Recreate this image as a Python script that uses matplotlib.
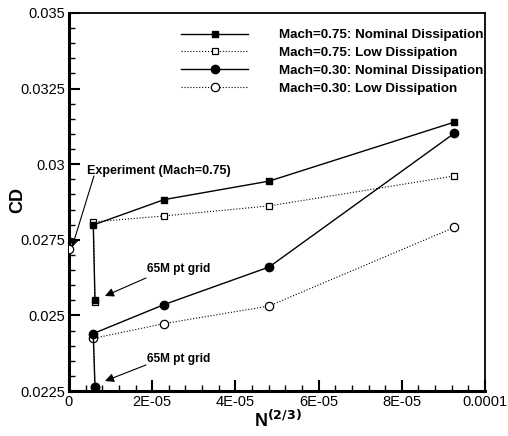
import matplotlib
matplotlib.use('Agg')
import matplotlib.pyplot as plt
from matplotlib.ticker import MultipleLocator, FuncFormatter

plt.rcParams['font.family'] = ['Liberation Sans', 'DejaVu Sans']

# ===== DATA =====
# grid parameter N^(2/3); first point is the 65M pt grid
n_grid = [6.25e-6, 5.84e-6, 2.29e-5, 4.81e-5, 9.26e-5]

cd_m075_nominal = [0.02550, 0.02799, 0.02883, 0.02944, 0.03139]
cd_m075_low = [0.02544, 0.02809, 0.02829, 0.02862, 0.02961]
cd_m030_nominal = [0.02264, 0.02440, 0.02536, 0.02660, 0.03102]
cd_m030_low = [0.02264, 0.02424, 0.02473, 0.02531, 0.02791]

exp_x = [0.0]
exp_cd = [0.02720]

labels = ['Mach=0.75: Nominal Dissipation', 'Mach=0.75: Low Dissipation',
          'Mach=0.30: Nominal Dissipation', 'Mach=0.30: Low Dissipation']

# ===== PLOT =====
fig = plt.figure(figsize=(5.08, 4.36), dpi=100)
ax = fig.add_axes([0.1358, 0.1032, 0.8189, 0.867])

ax.plot(n_grid, cd_m075_nominal, color='black', lw=1.0, ls='-',
        marker='s', ms=5, mfc='black', mec='black', label=labels[0], zorder=4)
ax.plot(n_grid, cd_m075_low, color='black', lw=0.8, ls=':',
        marker='s', ms=4.5, mfc='white', mec='black', mew=0.9, label=labels[1], zorder=3)
ax.plot(n_grid, cd_m030_nominal, color='black', lw=1.0, ls='-',
        marker='o', ms=6, mfc='black', mec='black', label=labels[2], zorder=4)
ax.plot(n_grid, cd_m030_low, color='black', lw=0.8, ls=':',
        marker='o', ms=6, mfc='white', mec='black', mew=0.9, label=labels[3], zorder=3)
ax.plot(exp_x, exp_cd, ls='none', marker='o', ms=6, mfc='white', mec='black',
        mew=0.9, zorder=3, clip_on=True)

ax.set_xlim(0, 1e-4)
ax.set_ylim(0.0225, 0.035)

ax.xaxis.set_major_locator(MultipleLocator(2e-5))
ax.xaxis.set_minor_locator(MultipleLocator(4e-6))
ax.yaxis.set_major_locator(MultipleLocator(0.0025))
ax.yaxis.set_minor_locator(MultipleLocator(0.0005))


def fmt_x(v, pos):
    labs = {0: '0', 1: '2E-05', 2: '4E-05', 3: '6E-05', 4: '8E-05', 5: '0.0001'}
    return labs.get(int(round(v / 2e-5)), '')


def fmt_y(v, pos):
    return ('%.4f' % v).rstrip('0')


ax.xaxis.set_major_formatter(FuncFormatter(fmt_x))
ax.yaxis.set_major_formatter(FuncFormatter(fmt_y))

ax.tick_params(which='major', direction='in', length=8, width=1.5,
               labelsize=10.5, top=False, right=False, pad=3)
ax.tick_params(which='minor', direction='in', length=4, width=1.0,
               top=False, right=False)
for s in ax.spines.values():
    s.set_linewidth(1.3)
ax.spines['left'].set_linewidth(2.2)
ax.spines['bottom'].set_linewidth(2.2)

ax.set_xlabel(r'N$^{\mathbf{(2/3)}}$', fontsize=13, fontweight='bold', va='center')
ax.xaxis.set_label_coords(0.502, -0.077)
ax.set_ylabel('CD', fontsize=13, fontweight='bold', va='center')
ax.yaxis.set_label_coords(-0.1226, 0.505)

# annotations: text and arrows placed separately
arrow = dict(arrowstyle='-|>', color='black', lw=0.8, mutation_scale=13,
             shrinkA=0, shrinkB=0)
ax.text(4.33e-6, 0.02978, 'Experiment (Mach=0.75)', fontsize=9,
        fontweight='bold', ha='left', va='center')
ax.annotate('', xy=(7.2e-7, 0.02725), xytext=(6.0e-6, 0.02961), arrowprops=arrow)

ax.text(1.88e-5, 0.026534, '65M pt grid', fontsize=8.6,
        fontweight='bold', ha='left', va='center')
ax.annotate('', xy=(8.65e-6, 0.025642), xytext=(1.851e-5, 0.026237), arrowprops=arrow)

ax.text(1.88e-5, 0.023558, '65M pt grid', fontsize=8.6,
        fontweight='bold', ha='left', va='center')
ax.annotate('', xy=(8.65e-6, 0.02283), xytext=(1.851e-5, 0.02336), arrowprops=arrow)

leg = ax.legend(loc='upper right', bbox_to_anchor=(0.996, 0.958), frameon=False,
                prop={'weight': 'bold', 'size': 9.6}, handlelength=5.0,
                borderaxespad=0, borderpad=0, labelspacing=0.42, handletextpad=2.3)

fig.savefig('out.png', dpi=100)
